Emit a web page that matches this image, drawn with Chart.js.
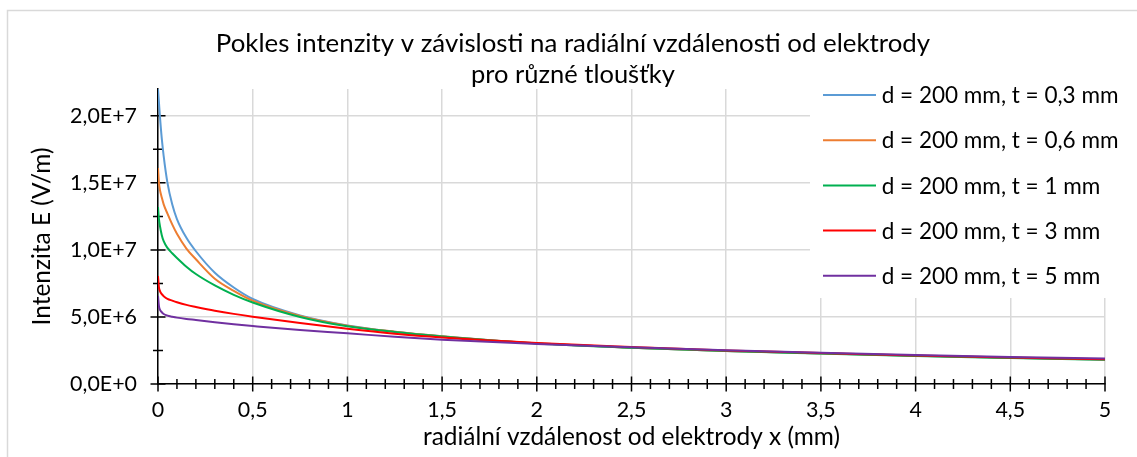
<!DOCTYPE html>
<html>
<head>
<meta charset="utf-8">
<script src="https://cdn.jsdelivr.net/npm/chart.js@4/dist/chart.umd.min.js"></script>
<style>
html,body{margin:0;padding:0;background:#fff;}
canvas{display:block;}
</style>
</head>
<body>
<canvas id="c" width="1137" height="457"></canvas>
<script>
// ---- texts ----
const chartTitle = 'Pokles intenzity v závislosti na radiální vzdálenosti od elektrody';
const chartSubtitle = 'pro různé tloušťky';
const xAxisTitle = 'radiální vzdálenost od elektrody x (mm)';
const yAxisTitle = 'Intenzita E (V/m)';
const seriesLabels = [
  'd = 200 mm, t = 0,3 mm',
  'd = 200 mm, t = 0,6 mm',
  'd = 200 mm, t = 1 mm',
  'd = 200 mm, t = 3 mm',
  'd = 200 mm, t = 5 mm'
];
const seriesColors = ['#5B9BD5', '#ED7D31', '#00B050', '#FF0000', '#7030A0'];

// ---- data (x in mm, E in V/m) ----
const xValues = [0, 0.005, 0.01, 0.02, 0.03, 0.05, 0.075, 0.1, 0.15, 0.2, 0.3, 0.4, 0.5, 0.75, 1, 1.25, 1.5, 2, 2.5, 3, 3.5, 4, 4.5, 5];
const eT03 = [22.0e6, 21.0e6, 20.0e6, 18.3e6, 17.0e6, 15.0e6, 13.4e6, 12.3e6, 10.9e6, 9.9e6, 8.3e6, 7.2e6, 6.35e6, 5.12e6, 4.37e6, 3.9e6, 3.56e6, 3.03e6, 2.71e6, 2.47e6, 2.28e6, 2.1e6, 1.95e6, 1.82e6];
const eT06 = [16.1e6, 15.0e6, 14.5e6, 13.9e6, 13.4e6, 12.7e6, 11.9e6, 11.2e6, 10.1e6, 9.3e6, 7.85e6, 6.95e6, 6.22e6, 5.08e6, 4.35e6, 3.9e6, 3.56e6, 3.03e6, 2.71e6, 2.47e6, 2.28e6, 2.1e6, 1.95e6, 1.82e6];
const eT1  = [13.2e6, 12.3e6, 11.8e6, 11.1e6, 10.65e6, 10.15e6, 9.75e6, 9.4e6, 8.75e6, 8.2e6, 7.35e6, 6.65e6, 6.08e6, 5.0e6, 4.3e6, 3.88e6, 3.55e6, 3.02e6, 2.7e6, 2.46e6, 2.27e6, 2.09e6, 1.94e6, 1.8e6];
const eT3  = [8.05e6, 7.2e6, 6.95e6, 6.7e6, 6.55e6, 6.35e6, 6.22e6, 6.1e6, 5.9e6, 5.75e6, 5.47e6, 5.23e6, 5.02e6, 4.55e6, 4.12e6, 3.75e6, 3.47e6, 3.06e6, 2.76e6, 2.5e6, 2.31e6, 2.13e6, 1.98e6, 1.85e6];
const eT5  = [6.57e6, 5.8e6, 5.55e6, 5.35e6, 5.22e6, 5.1e6, 5.02e6, 4.95e6, 4.85e6, 4.77e6, 4.6e6, 4.45e6, 4.32e6, 4.02e6, 3.78e6, 3.52e6, 3.3e6, 2.99e6, 2.74e6, 2.52e6, 2.33e6, 2.16e6, 2.01e6, 1.9e6];
const seriesValues = [eT03, eT06, eT1, eT3, eT5];

// ---- ticks ----
const xTickValues = [0, 0.5, 1, 1.5, 2, 2.5, 3, 3.5, 4, 4.5, 5];
const xTickLabels = ['0', '0,5', '1', '1,5', '2', '2,5', '3', '3,5', '4', '4,5', '5'];
const yTickValues = [0, 5e6, 1e7, 1.5e7, 2e7];
const yTickLabels = ['0,0E+0', '5,0E+6', '1,0E+7', '1,5E+7', '2,0E+7'];

// ---- font fitting ----
const FAMILY = 'Lato';
const mctx = document.createElement('canvas').getContext('2d');
function fitSize(text, target) {
  mctx.font = '400 100px ' + FAMILY;
  return 1.03 * 100 * target / mctx.measureText(text).width;
}
const titleSize = fitSize(chartTitle, 694);
const subSize = fitSize(chartSubtitle, 198);
const tickSize = fitSize('1,5E+7', 65);
const axisTitleSize = fitSize(xAxisTitle, 405);
const legendSize = fitSize(seriesLabels[0], 230);

const TEXT = '#000000';
const GRID = '#d9d9d9';
const PAD_LEFT = 9;

const bgPlugin = {
  id: 'bg',
  beforeDraw(chart) {
    const ctx = chart.ctx;
    ctx.save();
    ctx.fillStyle = '#fff';
    ctx.fillRect(0, 0, chart.width, chart.height);
    ctx.strokeStyle = GRID;
    ctx.lineWidth = 1.5;
    ctx.beginPath();
    ctx.moveTo(7.5, chart.height);
    ctx.lineTo(7.5, 10.5);
    ctx.lineTo(chart.width, 10.5);
    ctx.stroke();
    ctx.restore();
  }
};

const tickPlugin = {
  id: 'crossTicks',
  beforeDatasetsDraw(chart) {
    const {ctx, scales: {x, y}} = chart;
    const ax = x.getPixelForValue(0);
    const ay = y.getPixelForValue(0);
    ctx.save();
    ctx.strokeStyle = '#000';
    ctx.lineWidth = 1.5;
    ctx.beginPath();
    yTickValues.forEach((v, i) => {
      const p = y.getPixelForValue(v);
      ctx.moveTo(ax - 7.5, p); ctx.lineTo(ax + 7.5, p);
      if (i < yTickValues.length - 1) {
        const m = y.getPixelForValue((v + yTickValues[i + 1]) / 2);
        ctx.moveTo(ax - 5, m); ctx.lineTo(ax + 5, m);
      }
    });
    xTickValues.forEach((v, i) => {
      const p = x.getPixelForValue(v);
      ctx.moveTo(p, ay - 7.5); ctx.lineTo(p, ay + 7.5);
      if (i < xTickValues.length - 1) {
        const step = (xTickValues[i + 1] - v) / 5;
        for (let k = 1; k < 5; k++) {
          const m = x.getPixelForValue(v + step * k);
          ctx.moveTo(m, ay - 5); ctx.lineTo(m, ay + 5);
        }
      }
    });
    ctx.stroke();
    ctx.restore();
  }
};

const legendPlugin = {
  id: 'overlayLegend',
  afterDraw(chart) {
    const ctx = chart.ctx;
    ctx.save();
    ctx.fillStyle = '#fff';
    ctx.fillRect(810, 82, 327, 216);
    ctx.font = '400 ' + legendSize + 'px ' + FAMILY;
    ctx.textBaseline = 'middle';
    ctx.textAlign = 'left';
    chart.data.datasets.forEach((ds, i) => {
      const yy = 95 + i * 45.2;
      ctx.strokeStyle = ds.borderColor;
      ctx.lineWidth = 2;
      ctx.beginPath();
      ctx.moveTo(823, yy); ctx.lineTo(876, yy);
      ctx.stroke();
      ctx.fillStyle = TEXT;
      ctx.fillText(ds.label, 881.7, yy + 1);
    });
    ctx.restore();
  }
};

const datasets = seriesLabels.map((label, i) => ({
  label: label,
  data: xValues.map((xv, j) => ({x: xv, y: seriesValues[i][j]})),
  borderColor: seriesColors[i],
  backgroundColor: seriesColors[i],
  borderWidth: 2,
  pointRadius: 0,
  showLine: true,
  fill: false,
  cubicInterpolationMode: 'monotone',
  xAxisID: 'x',
  yAxisID: 'y',
  order: seriesLabels.length - i
}));

new Chart(document.getElementById('c'), {
  type: 'scatter',
  data: {datasets: datasets},
  plugins: [bgPlugin, tickPlugin, legendPlugin],
  options: {
    responsive: false,
    animation: false,
    devicePixelRatio: 1,
    layout: {padding: {left: PAD_LEFT, right: 0, top: 0, bottom: 0}},
    plugins: {
      legend: {display: false},
      tooltip: {enabled: false},
      title: {
        display: true, text: chartTitle, color: TEXT,
        font: {family: FAMILY, size: titleSize, weight: 'normal', lineHeight: 1.2},
        padding: {top: 44 - 0.6 * titleSize, bottom: 0}
      },
      subtitle: {
        display: true, text: chartSubtitle, color: TEXT,
        font: {family: FAMILY, size: subSize, weight: 'normal', lineHeight: 1.2},
        padding: {top: 75 - 0.6 * subSize - (44 + 0.6 * titleSize), bottom: 89 - (75 + 0.6 * subSize)}
      }
    },
    scales: {
      x: {
        type: 'linear', min: 0, max: 5,
        afterBuildTicks: (s) => { s.ticks = xTickValues.map(v => ({value: v})); },
        afterFit: (s) => { s.height = 73; },
        ticks: {
          callback: (v, i) => xTickLabels[i],
          color: TEXT, maxRotation: 0, autoSkip: false,
          font: {family: FAMILY, size: tickSize, lineHeight: 1.2},
          padding: 410 - 384 - 8 - 0.6 * tickSize
        },
        grid: {color: GRID, lineWidth: 1.5, tickLength: 8, tickColor: 'rgba(0,0,0,0)'},
        border: {color: '#000', width: 1.5},
        title: {
          display: true, text: xAxisTitle, color: TEXT,
          font: {family: FAMILY, size: axisTitleSize, lineHeight: 1.2},
          padding: {top: 0, bottom: 20 - 0.6 * axisTitleSize}
        }
      },
      y: {
        type: 'linear', min: 0, max: 2.2e7,
        afterBuildTicks: (s) => { s.ticks = yTickValues.map(v => ({value: v})); },
        afterFit: (s) => { s.width = 158 - PAD_LEFT; },
        ticks: {
          callback: (v, i) => yTickLabels[i],
          color: TEXT,
          font: {family: FAMILY, size: tickSize, lineHeight: 1.2},
          padding: 13
        },
        grid: {color: GRID, lineWidth: 1.5, tickLength: 8, tickColor: 'rgba(0,0,0,0)'},
        border: {color: '#000', width: 1.5},
        title: {
          display: true, text: yAxisTitle, color: TEXT,
          font: {family: FAMILY, size: axisTitleSize, lineHeight: 1.2},
          padding: {top: 42 - PAD_LEFT - 0.6 * axisTitleSize, bottom: 0}
        }
      },
      yRight: {
        type: 'linear', axis: 'y', position: 'right', display: true,
        min: 0, max: 1,
        grid: {display: false, drawTicks: false, drawOnChartArea: false},
        ticks: {display: false},
        border: {display: false},
        title: {display: false},
        afterFit: (s) => { s.width = 1137 - 1105; }
      }
    }
  }
});
</script>
</body>
</html>
